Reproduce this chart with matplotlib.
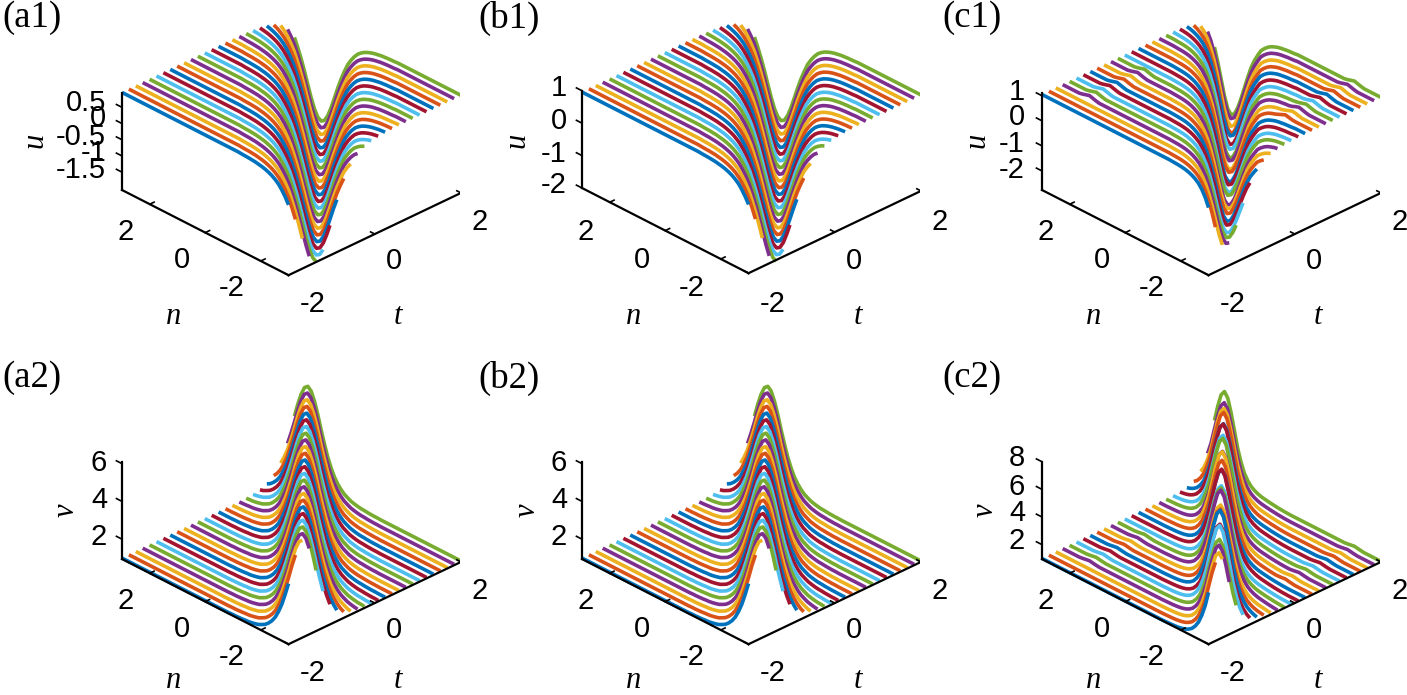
import numpy as np
import matplotlib
matplotlib.use('Agg')
import matplotlib.pyplot as plt
from mpl_toolkits.mplot3d import proj3d

W, H = 1407, 695

n_vals = np.linspace(-3, 3, 51)
t_vals = np.linspace(-2, 2, 26)

# travelling profiles, xi = -5 ... 7 in steps of 0.12.
# every line is a window of 51 samples, sliding 2 samples per line
side_u = [-1.97, -1.77, -1.47, -1.12, -0.76, -0.43, -0.14, 0.12, 0.31, 0.47, 0.60,
          0.69, 0.76, 0.81, 0.85, 0.88, 0.90, 0.92, 0.93, 0.94, 0.945, 0.95]
u_ab = [0.96] * 20 + side_u[::-1] + [-2.04] + side_u + [0.96] * 36

side_v = [5.94, 5.50, 4.88, 4.16, 3.50, 2.89, 2.41, 2.02, 1.74, 1.53, 1.37,
          1.27, 1.18, 1.13, 1.09, 1.06, 1.05, 1.03, 1.02, 1.01, 1.01, 1.00]
v_ab = [1.0] * 24 + side_v[::-1] + [6.10] + side_v + [1.0] * 32

u_c_right = [1.03, 1.02, 1.01, 0.99, 0.97, 0.94, 0.89, 0.83, 0.74, 0.62, 0.47, 0.22, -0.06,
             -0.41, -0.86, -1.35, -1.84, -2.28, -2.59]
u_c_left = [-2.53, -2.08, -1.48, -0.87, -0.34, 0.08, 0.39, 0.61, 0.75, 0.85, 0.92,
            0.97, 1.00, 1.02, 1.03, 1.04]
u_c = [1.05] * 26 + u_c_right + [-2.70] + u_c_left + [1.05] * 39

v_c_right = [1.01, 1.02, 1.04, 1.06, 1.09, 1.12, 1.16, 1.20, 1.25, 1.33, 1.45, 1.62, 1.90, 2.32,
             2.98, 3.86, 5.03, 6.20, 7.14]
v_c_left = [7.14, 6.20, 5.03, 3.86, 2.98, 2.30, 1.85, 1.53, 1.34, 1.21, 1.13, 1.08, 1.05, 1.03, 1.02, 1.01]
v_c = [1.0] * 28 + v_c_right + [7.50] + v_c_left + [1.0] * 37

# line to line change of the depth / height in panels c, blue line first
c1_gain = [0.80, 0.80, 0.80, 0.80, 0.81, 0.83, 0.82, 0.85, 0.84, 0.86, 0.89, 0.86, 0.90, 0.89,
           0.93, 0.90, 0.94, 0.92, 0.96, 0.94, 0.96, 0.94, 0.98, 0.98, 0.97, 1.0]
c2_gain = [0.92, 0.92, 0.92, 0.93, 0.92, 1.0, 0.94, 1.02, 0.96, 0.93, 1.02, 0.97, 0.92, 1.03,
           0.95, 0.98, 1.0, 0.93, 1.0, 0.96, 1.01, 0.94, 0.99, 0.96, 0.95, 1.0]

# small bumps at two fixed sites in panels c
bump_shape = [0.03, 0.07, 0.11, 0.07, 0.03]
bump_site_left = 42
bump_lines_left = [3, 4, 5, 6, 7, 8, 9, 10, 11]
bump_site_right = 8
bump_lines_right = [15, 16, 17, 18, 19, 20, 21, 22, 23, 24, 25]

colors = ['#0072BD', '#D95319', '#EDB120', '#7E2F8E', '#77AC30', '#4DBEEE', '#A2142F']

titles = ['(a1)', '(b1)', '(c1)', '(a2)', '(b2)', '(c2)']
zlabels = ['u', 'u', 'u', 'v', 'v', 'v']
zticks = [[0.5, 0, -0.5, -1, -1.5], [1, 0, -1, -2], [1, 0, -1, -2], [6, 4, 2], [6, 4, 2], [8, 6, 4, 2]]
zticklabels = [['0.5', '0', '-0.5', '-1', '-1.5'], ['1', '0', '-1', '-2'], ['1', '0', '-1', '-2'],
               ['6', '4', '2'], ['6', '4', '2'], ['8', '6', '4', '2']]
zlims = [(-2.05, 0.95), (-2.0, 1.0), (-2.76, 1.12), (0.95, 6.1), (0.95, 6.1), (0.96, 8.0)]
profiles = [u_ab, u_ab, u_c, v_ab, v_ab, v_c]
gains = [None, None, c1_gain, None, None, c2_gain]

# layout in pixels
corners = [(122, 190), (582, 188), (1042, 190), (122, 559), (582, 559), (1042, 559)]
title_xy = [(2, 18), (478, 18), (942, 18), (2, 378), (478, 378), (942, 378)]
ztick_y = [[103, 118, 137, 153, 170], [88, 121, 154, 185], [92, 117, 144, 170],
           [463, 500, 537], [463, 500, 537], [458, 487, 513, 541]]
ztick_right = [106, 567, 1025, 107, 567, 1025]
zlabel_xy = [(35, 140), (517, 140), (977, 140), (66, 510), (527, 510), (985, 510)]
n_label_off = [('2', 4, 42), ('0', 60, 70), ('-2', 110, 98)]
t_label_off = [('-2', 191, 114), ('0', 272, 71), ('2', 358, 32)]

fig = plt.figure(figsize=(W / 100, H / 100), dpi=100)


def px_text(x, y, s, **kw):
    fig.text(x / W, 1 - y / H, s, **kw)


def fit_axes(ax, left, zmin):
    # scale and move the square axes so the floor corners land on the wanted pixels
    side = 500
    ax.set_position([0, 0, side / W, side / H])
    M = ax.get_proj()
    pts = []
    for t, n in [(-2, 3), (2, -3)]:
        x, y, _ = proj3d.proj_transform(t, n, zmin, M)
        pts.append(ax.transData.transform((x, y)))
    side = side * (339 / (pts[1][0] - pts[0][0]))
    ax.set_position([0, 0, side / W, side / H])
    x, y, _ = proj3d.proj_transform(-2, 3, zmin, M)
    px, py = ax.transData.transform((x, y))
    ax.set_position([(left[0] - px) / W, (H - left[1] - py) / H, side / W, side / H])


for i in range(6):
    ax = fig.add_subplot(projection='3d', proj_type='ortho')
    ax.view_init(elev=29.6, azim=-134)
    ax.set_box_aspect((1, 1, 0.4665))
    ax.set_xlim(-2, 2)
    ax.set_ylim(-3, 3)
    ax.set_zlim(*zlims[i])
    ax.set_axis_off()
    ax.patch.set_visible(False)

    far = profiles[i][0]
    for j in range(25, -1, -1):
        start = 2 * (25 - j)
        z = np.array(profiles[i][start:start + 51])
        if gains[i] is not None:
            z = far + gains[i][j] * (z - far)
            if j in bump_lines_left:
                z[bump_site_left - 2:bump_site_left + 3] += bump_shape
            if j in bump_lines_right:
                z[bump_site_right - 2:bump_site_right + 3] += bump_shape
        ax.plot(np.full(51, t_vals[j]), n_vals, z, color=colors[j % 7], lw=2.6, solid_capstyle='butt')

    z0, z1 = zlims[i]
    ax.plot([-2, -2], [3, 3], [z0, z1], color='k', lw=1.6)
    ax.plot([-2, -2], [3, -3], [z0, z0], color='k', lw=1.6)
    ax.plot([-2, 2], [-3, -3], [z0, z0], color='k', lw=1.6)
    for v in zticks[i]:
        ax.plot([-2, -2], [3, 3.2], [v, v], color='k', lw=1.2)
    for v in [-2, 0, 2]:
        ax.plot([-2, -1.9], [v, v], [z0, z0], color='k', lw=1.2)
        ax.plot([v, v], [-3, -2.85], [z0, z0], color='k', lw=1.2)

    fit_axes(ax, corners[i], z0)

    cx, cy = corners[i]
    sans = dict(family='Liberation Sans', fontsize=21, ha='center', va='center')
    for s, dx, dy in n_label_off + t_label_off:
        px_text(cx + dx, cy + dy + (2 if i == 1 else 0), s, **sans)
    for s, y in zip(zticklabels[i], ztick_y[i]):
        px_text(ztick_right[i], y, s, family='Liberation Sans', fontsize=21, ha='right', va='center')
    serif = dict(family='Liberation Serif', style='italic', fontsize=22, ha='center', va='center')
    px_text(cx + 52, 316 if i < 3 else 681, 'n', **serif)
    px_text(cx + 276, 316 if i < 3 else 681, 't', **serif)
    px_text(zlabel_xy[i][0], zlabel_xy[i][1], zlabels[i], rotation=90, **serif)
    px_text(title_xy[i][0], title_xy[i][1], titles[i], family='Liberation Serif', fontsize=26.5, ha='left', va='center')

fig.savefig('out.png', dpi=100)
